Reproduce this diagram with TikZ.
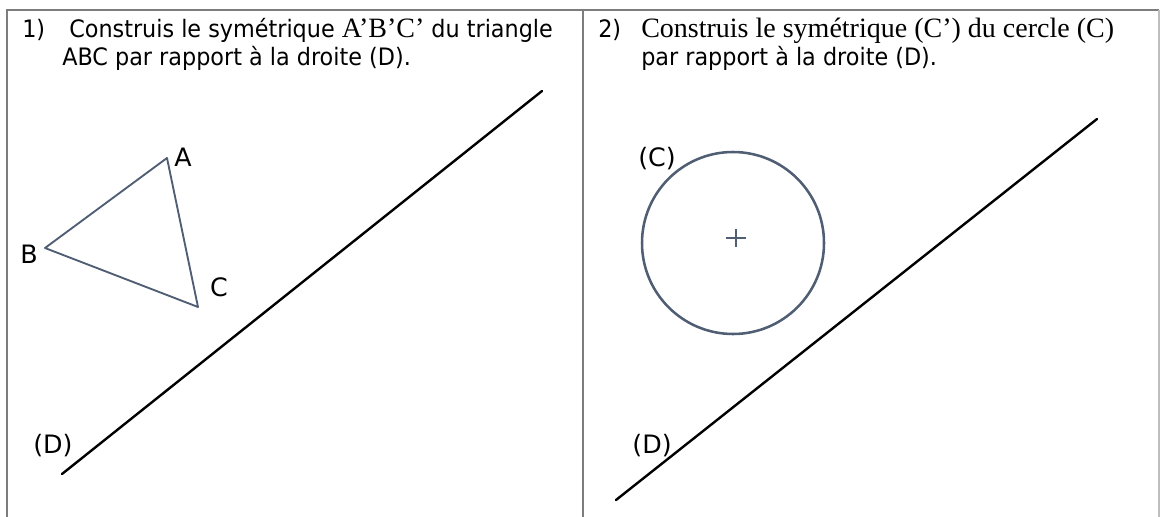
\documentclass[tikz,border=0pt]{standalone}
\usepackage{fontspec}
\setmainfont{DejaVu Sans}[FakeStretch=0.93]
\newfontfamily\labelface{DejaVu Sans}
\newfontfamily\serifface{Liberation Serif}
\usetikzlibrary{positioning,calc}
\definecolor{framegray}{RGB}{125,125,125}
\definecolor{figblue}{RGB}{80,94,116}

\begin{document}
\begin{tikzpicture}[x=0.75pt,y=-0.75pt,
  frameline/.style={draw=framegray,line width=1.1pt},
  axisline/.style={draw=black,line width=1.8pt,line cap=round},
  figshape/.style={draw=figblue,line width=1.4pt,line join=round},
  txt/.style={anchor=base west,inner sep=0pt,font=\fontsize{18}{21}\selectfont},
  sertxt/.style={font=\fontsize{21}{24}\serifface},
  lbl/.style={inner sep=0pt,font=\fontsize{19}{22}\labelface}]
  \useasboundingbox (0,0) rectangle (1160,517);

  % Frame of the two exercises
  \draw[frameline] (7,517) -- (7,10) -- (1159,10);
  \draw[frameline] (583,10) -- (583,517);
  \draw[frameline,draw=framegray!50] (1159,10) -- (1159,517);

  % Exercise 1: triangle
  \node[txt] (num1) at (22,38) {1)};
  \node[txt] (q1a) at (69,38) {Construis le symétrique {\fontsize{21}{24}\serifface A’B’C’} du triangle};
  \node[txt] (q1b) at (62,66) {ABC par rapport à la droite (D).};

  \coordinate (A) at (167,158);
  \coordinate (B) at (45,248);
  \coordinate (C) at (198,307);
  \draw[figshape] (A) -- (B) -- (C) -- cycle;
  \node[lbl] (labA) at (183,157) {A};
  \node[lbl] (labB) at (29,254) {B};
  \node[lbl] (labC) at (219,287) {C};

  \coordinate (d1s) at (62,474);
  \coordinate (d1e) at (542,91);
  \draw[axisline] (d1s) -- (d1e);
  \node[lbl] (labD1) at (53,446) {(D)};

  % Exercise 2: circle
  \node[txt] (num2) at (598,38) {2)};
  \node[txt,sertxt] (q2a) at (641,38) {Construis le symétrique (C’) du cercle (C)};
  \node[txt] (q2b) at (641,66) {par rapport à la droite (D).};

  \coordinate (O) at (733,243);
  \coordinate (P) at (736,238);
  \draw[figshape,line width=1.9pt] (O) circle (91);
  \draw[figshape,line width=0.9pt] ($(P)+(-10,0)$) -- ($(P)+(10,0)$)
    ($(P)+(0,-9)$) -- ($(P)+(0,9)$);
  \node[lbl] (labCircle) at (657,159) {(C)};

  \coordinate (d2s) at (616,500);
  \coordinate (d2e) at (1097,119);
  \draw[axisline] (d2s) -- (d2e);
  \node[lbl] (labD2) at (652,446) {(D)};
\end{tikzpicture}
\end{document}
